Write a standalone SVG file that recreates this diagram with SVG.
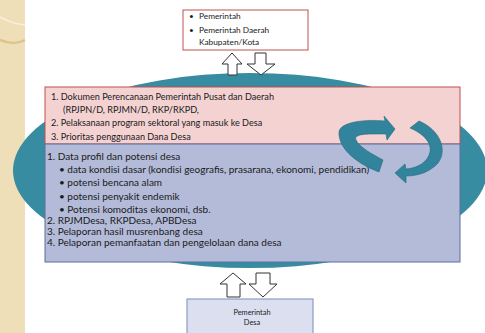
<svg xmlns="http://www.w3.org/2000/svg" width="485" height="333" viewBox="0 0 485 333">
<style>
.t{font-family:Lato,"Liberation Sans",sans-serif;fill:#1a1a1a}
.pk{font-size:9.1px}
.bl{font-size:10px}
.sm{font-size:8.3px}
.sd{font-size:7.4px}
.blk{fill:#fff;stroke:#333;stroke-width:1;stroke-linejoin:miter}
.cyc{fill:#31849b;stroke:#266a7c;stroke-width:0.6}
</style>
<rect width="485" height="333" fill="#fff"/>
<g id="side">
<rect x="0" y="0" width="25" height="333" fill="#efdfb8"/>
<path d="M0,17 Q12,24 25,25" fill="none" stroke="#f8f0dc" stroke-width="1.5"/>
<path d="M0,40 Q14,46 25,40" fill="none" stroke="#dcc48e" stroke-width="2.5"/>
</g>
<g id="ellipse">
<ellipse cx="250" cy="170.5" rx="237" ry="97.5" fill="#388ca2"/>
</g>
<g id="pemerintah-pusat">
<rect x="183" y="10" width="125" height="40" fill="#fff" stroke="#c0504d" stroke-width="1"/>
<text class="t sm" x="189" y="19">•</text>
<text class="t sm" x="199" y="19">Pemerintah</text>
<text class="t sm" x="189" y="32.5">•</text>
<text class="t sm" x="199" y="32.5">Pemerintah Daerah</text>
<text class="t sm" x="199" y="45">Kabupaten/Kota</text>
</g>
<g id="dokumen">
<rect x="45" y="87" width="415" height="57" fill="#f4d2d2" stroke="#c0504d" stroke-width="1"/>
<text class="t pk" x="51" y="100">1.  Dokumen Perencanaan Pemerintah Pusat dan Daerah</text>
<text class="t pk" x="63" y="113">(RPJPN/D, RPJMN/D, RKP/RKPD,</text>
<text class="t pk" x="51" y="126">2.  Pelaksanaan program sektoral yang  masuk ke Desa</text>
<text class="t pk" x="51" y="140">3.  Prioritas penggunaan Dana Desa</text>
</g>
<g id="data-desa">
<rect x="45" y="144" width="415" height="118" fill="#b3bbd9" stroke="#5b6fa0" stroke-width="1"/>
<text class="t bl" x="47" y="160">1. Data profil dan potensi desa</text>
<text class="t bl" x="59" y="172.5">• data kondisi dasar (kondisi geografis, prasarana, ekonomi, pendidikan)</text>
<text class="t bl" x="59" y="186">• potensi bencana alam</text>
<text class="t bl" x="59" y="200">• potensi penyakit endemik</text>
<text class="t bl" x="59" y="212.5">• Potensi komoditas ekonomi, dsb.</text>
<text class="t bl" x="47" y="224">2. RPJMDesa, RKPDesa, APBDesa</text>
<text class="t bl" x="47" y="234.5">3. Pelaporan hasil musrenbang desa</text>
<text class="t bl" x="47" y="245.5">4. Pelaporan pemanfaatan dan pengelolaan dana desa</text>
</g>
<g id="pemerintah-desa">
<rect x="187" y="299" width="126" height="40" fill="#dcdff0" stroke="#7d8cb5" stroke-width="1"/>
<text class="t sd" x="252" y="315" text-anchor="middle">Pemerintah</text>
<text class="t sd" x="252" y="325" text-anchor="middle">Desa</text>
</g>
<g id="connectors">
<polygon class="blk" points="232,53 242,64 237,64 237,75 228,75 228,64 222,64"/>
<polygon class="blk" points="255,53 266,53 266,64 275,64 261,75 247,64 255,64"/>
<polygon class="blk" points="233,273 246,284 240,284 240,297 227,297 227,284 220,284"/>
<polygon class="blk" points="256,273 270,273 270,284 277,284 263,297 249,284 256,284"/>
<path class="cyc" d="M385,121 L384,116 L395,129 L387,140 L386,134 C370,134 353,133 356,140 C359,147 372,154 383,160 L379,172 C360,165 338,150 339,132 C340,122 365,119 385,121 Z"/>
<path class="cyc" d="M410,128 L419,121 C440,130 448,150 438,163 C430,172 418,176 406,176 L406,183 L395,173 L405,164 L406,169 C418,168 428,162 430,152 C432,142 422,133 410,128 Z"/>
</g>
</svg>
